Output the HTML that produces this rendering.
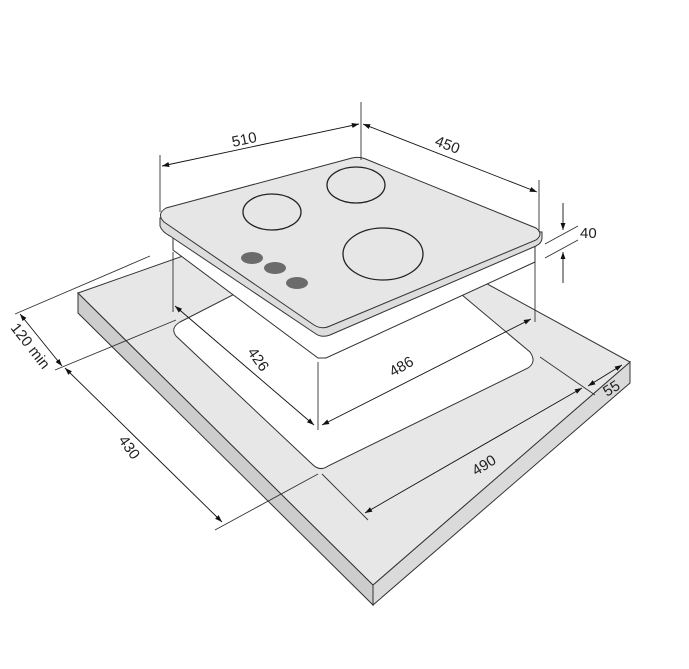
<!DOCTYPE html>
<html><head><meta charset="utf-8"><style>
html,body{margin:0;padding:0;background:#fff}
svg{display:block}
text{font-family:"Liberation Sans Narrow","Liberation Sans",sans-serif;font-size:15px;fill:#222}
</style></head><body>
<svg width="689" height="669" viewBox="0 0 689 669" xmlns="http://www.w3.org/2000/svg">
<defs>
<marker id="a" viewBox="0 0 10 10" refX="10" refY="5" markerWidth="8" markerHeight="8" orient="auto-start-reverse"><path d="M0,1.5 L10,5 L0,8.5 z" fill="#111"/></marker>
</defs>
<g stroke="#333" stroke-width="1">
<!-- countertop -->
<polygon points="78,293 78,313 373,605 373,585" fill="#cdcdcd"/>
<polygon points="373,585 373,605 630,383 630,362" fill="#dadada"/>
<polygon points="78,293 200,250 480,280 630,362 373,585" fill="#e7e7e7"/>
<!-- cutout -->
<path d="M180,322 L375,222 L530,352 Q537,362 528,368 L328,466 Q320,472 312,464 L176,336 Q170,328 180,322 Z" fill="#fff"/>
<!-- body -->
<polygon points="173,232 173,250 318,358 326,358 535,262 535,246" fill="#fff"/>
<!-- hob -->
<path d="M160,218 L160,226 Q162,232 170,236 L316,334 Q322,338 330,335 L536,246 Q542,243 542,238 L542,232 Z" fill="#ddd"/>
<path d="M166,208 L352,158 Q360,156 368,160 L536,228 Q544,234 536,240 L330,326 Q322,330 314,325 L164,222 Q156,214 166,208 Z" fill="#e6e6e6"/>
</g>
<g fill="none" stroke="#222" stroke-width="1.3">
<ellipse cx="272" cy="212" rx="29" ry="18"/>
<ellipse cx="356" cy="185" rx="29" ry="18"/>
<ellipse cx="383" cy="254" rx="40" ry="26"/>
</g>
<g fill="#6b6b6b">
<ellipse cx="252" cy="258" rx="11" ry="6"/>
<ellipse cx="275" cy="268" rx="11" ry="6"/>
<ellipse cx="297" cy="283" rx="11" ry="6"/>
</g>
<g stroke="#333" stroke-width="0.9" fill="none">
<line x1="160" y1="155" x2="160" y2="212"/>
<line x1="361" y1="102" x2="361" y2="160"/>
<line x1="539" y1="180" x2="539" y2="232"/>
<line x1="545" y1="244" x2="578" y2="226"/>
<line x1="545" y1="258" x2="578" y2="240"/>
<line x1="173" y1="252" x2="173" y2="312"/>
<line x1="535" y1="262" x2="535" y2="322"/>
<line x1="318" y1="362" x2="318" y2="430"/>
<line x1="15" y1="314" x2="150" y2="256"/>
<line x1="55" y1="370" x2="176" y2="320"/>
<line x1="215" y1="530" x2="318" y2="474"/>
<line x1="322" y1="474" x2="368" y2="520"/>
<line x1="540" y1="357" x2="595" y2="395"/>
</g>
<g stroke="#111" stroke-width="0.9" fill="none" marker-start="url(#a)" marker-end="url(#a)">
<line x1="162" y1="166" x2="359" y2="124"/>
<line x1="363" y1="124" x2="537" y2="192"/>
<line x1="20" y1="314" x2="62" y2="366"/>
<line x1="65" y1="368" x2="222" y2="522"/>
<line x1="175" y1="306" x2="314" y2="425"/>
<line x1="322" y1="425" x2="531" y2="319"/>
<line x1="365" y1="513" x2="582" y2="388"/>
<line x1="588" y1="386" x2="622" y2="365"/>
</g>
<g stroke="#111" stroke-width="0.9" fill="none" marker-end="url(#a)">
<line x1="563" y1="203" x2="563" y2="230"/>
<line x1="563" y1="283" x2="563" y2="252"/>
</g>
<text transform="translate(233,147) rotate(-12)">510</text>
<text transform="translate(434,145) rotate(21)">450</text>
<text x="580" y="238">40</text>
<text transform="translate(10,328) rotate(52)">120 min</text>
<text transform="translate(118,440) rotate(55)">430</text>
<text transform="translate(247,352) rotate(55)">426</text>
<text transform="translate(393,377) rotate(-30)">486</text>
<text transform="translate(476,476) rotate(-32)">490</text>
<text transform="translate(607,397) rotate(-32)">55</text>
</svg>
</body></html>
